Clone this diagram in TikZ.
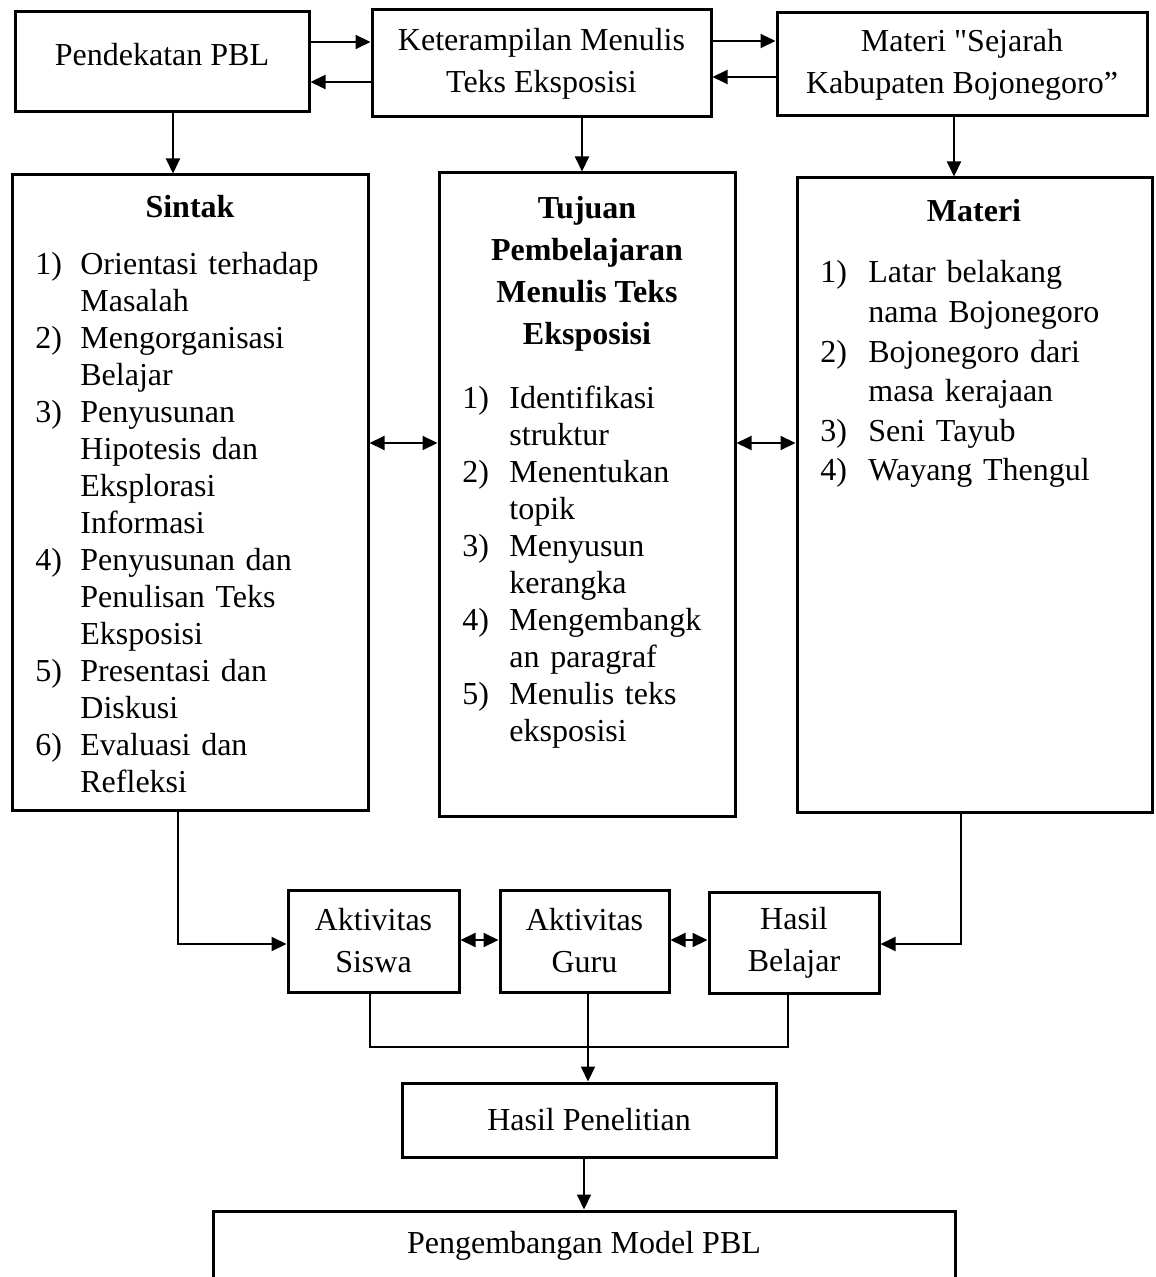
\documentclass[tikz,border=0pt]{standalone}
\usepackage{fontspec}
\setmainfont{Liberation Serif}[Ligatures=TeXOff]
\usetikzlibrary{arrows.meta}

\newlength{\butirjarak}
\newcommand{\butir}[2]{\par\noindent\hangindent=\butirjarak\hangafter=1\makebox[\butirjarak][l]{#1}\strut#2\par}
\newcommand{\putus}{\hfil\break}

\begin{document}
\begin{tikzpicture}[x=0.5pt,y=-0.5pt,
    kotak/.style={draw,line width=1.5pt,align=center,inner sep=0pt,font=\fontsize{16}{21}\selectfont},
    judul/.style={font=\fontsize{16}{21}\selectfont\bfseries,align=center},
    daftar/.style={anchor=north west,inner sep=0pt},
    panah/.style={line width=1pt,-{Triangle[length=7.5pt,width=7pt]}},
    panahdua/.style={line width=1pt,{Triangle[length=7.5pt,width=7pt]}-{Triangle[length=7.5pt,width=7pt]}},
    garis/.style={line width=1pt}]

    \useasboundingbox (0,0) rectangle (1155,1277);

    % baris atas
    \node[kotak,minimum width=147pt,minimum height=50pt] (pbl) at (162,62) {\raisebox{7.5pt}{Pendekatan PBL}};
    \node[kotak,minimum width=169.5pt,minimum height=53.5pt] (ket) at (541.5,63.5) {Keterampilan Menulis\\Teks Eksposisi};
    \node[kotak,minimum width=185pt,minimum height=51.5pt] (sejarah) at (962,64.5) {Materi "Sejarah\\Kabupaten Bojonegoro”};

    \draw[panah] ([yshift=10pt]pbl.east) -- ([yshift=10.75pt]ket.west);
    \draw[panah] ([yshift=-9.25pt]ket.west) -- ([yshift=-10pt]pbl.east);
    \draw[panah] ([yshift=11.25pt]ket.east) -- ([yshift=11.75pt]sejarah.west);
    \draw[panah] ([yshift=-6.25pt]sejarah.west) -- ([yshift=-6.75pt]ket.east);

    % kotak tengah
    \node[kotak,minimum width=178pt,minimum height=317.5pt] (sintak) at (190,492.5) {};
    \node[kotak,minimum width=148pt,minimum height=321.5pt] (tujuan) at (587,494.5) {};
    \node[kotak,minimum width=177.5pt,minimum height=317pt] (materi) at (974.5,495) {};

    \node[judul] (sintakjudul) at (190,207) {Sintak};
    \node[judul] (tujuanjudul) at (587,274) {Tujuan\\Pembelajaran\\Menulis Teks\\Eksposisi};
    \node[judul] (materijudul) at (974,211) {Materi};

    \node[daftar,text width=165pt,font=\fontsize{16}{18.5}\selectfont] (sintakisi) at (35,237) {%
        \setlength{\butirjarak}{22.5pt}%
        \butir{1)}{Orientasi terhadap\putus Masalah}
        \butir{2)}{Mengorganisasi\putus Belajar}
        \butir{3)}{Penyusunan\putus Hipotesis dan\putus Eksplorasi\putus Informasi}
        \butir{4)}{Penyusunan dan\putus Penulisan Teks\putus Eksposisi}
        \butir{5)}{Presentasi dan\putus Diskusi}
        \butir{6)}{Evaluasi dan\putus Refleksi}};
    \node[daftar,text width=135pt,font=\fontsize{16}{18.5}\selectfont] (tujuanisi) at (462,371) {%
        \setlength{\butirjarak}{23.5pt}%
        \butir{1)}{Identifikasi\putus struktur}
        \butir{2)}{Menentukan\putus topik}
        \butir{3)}{Menyusun\putus kerangka}
        \butir{4)}{Mengembangk\putus an paragraf}
        \butir{5)}{Menulis teks\putus eksposisi}};
    \node[daftar,text width=165pt,font=\fontsize{16}{19.8}\selectfont] (materiisi) at (820,243) {%
        \setlength{\butirjarak}{24pt}%
        \butir{1)}{Latar belakang\putus nama Bojonegoro}
        \butir{2)}{Bojonegoro dari\putus masa kerajaan}
        \butir{3)}{Seni Tayub}
        \butir{4)}{Wayang Thengul}};

    \draw[panah] ([xshift=5.5pt]pbl.south) -- ([xshift=-8.5pt]sintak.north);
    \draw[panah] ([xshift=20.25pt]ket.south) -- ([xshift=-2.5pt]tujuan.north);
    \draw[panah] ([xshift=-4pt]sejarah.south) -- ([xshift=-10.25pt]materi.north);

    \draw[panahdua] ([yshift=24.75pt]sintak.east) -- ([yshift=25.75pt]tujuan.west);
    \draw[panahdua] ([yshift=25.75pt]tujuan.east) -- ([yshift=26pt]materi.west);

    % baris bawah
    \node[kotak,minimum width=85.5pt,minimum height=51pt] (siswa) at (373.5,941) {Aktivitas\\Siswa};
    \node[kotak,minimum width=84.5pt,minimum height=51pt] (guru) at (584.5,941) {Aktivitas\\Guru};
    \node[kotak,minimum width=85pt,minimum height=50.5pt] (hasil) at (794,942.5) {Hasil\\Belajar};
    \node[kotak,minimum width=187pt,minimum height=37pt] (penelitian) at (589,1120) {Hasil Penelitian};
    \node[kotak,minimum width=371pt,minimum height=34.5pt] (pengembangan) at (584,1245.5) {Pengembangan Model PBL};

    \draw[panah] ([xshift=-6pt]sintak.south) |- ([yshift=-1.5pt]siswa.west);
    \draw[panah] ([xshift=-6.75pt]materi.south) |- ([yshift=-0.75pt]hasil.east);
    \draw[panahdua] ([yshift=0.5pt]siswa.east) -- ([yshift=0.5pt]guru.west);
    \draw[panahdua] ([yshift=0.5pt]guru.east) -- ([yshift=1.25pt]hasil.west);

    \draw[garis] ([xshift=-1.75pt]siswa.south) -- ++(0,53) -| ([xshift=-3pt]hasil.south);
    \draw[panah] ([xshift=1.75pt]guru.south) -- ([xshift=-0.5pt]penelitian.north);
    \draw[panah] ([xshift=-2.5pt]penelitian.south) -- (pengembangan.north);
\end{tikzpicture}
\end{document}
